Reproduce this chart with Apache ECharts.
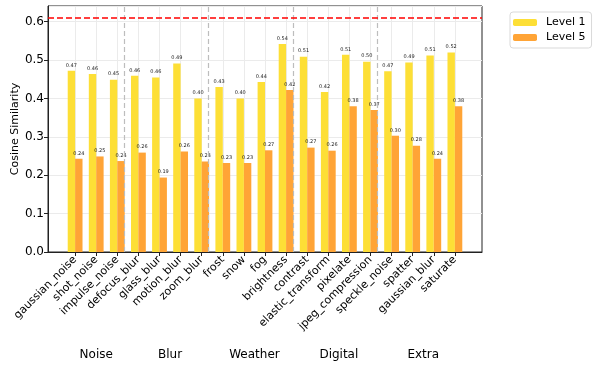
<!DOCTYPE html>
<html lang="en">
<head>
    <meta charset="UTF-8">
    <title>Cosine Similarity</title>
    <style>
        html, body { margin: 0; padding: 0; background: #fff; }
    </style>
</head>
<body>
<div id="main" style="width: 598px;height:367px;"></div>
<script src="https://cdn.jsdelivr.net/npm/echarts@6/dist/echarts.min.js"></script>
<script type="text/javascript">
    var categories = ['gaussian_noise', 'shot_noise', 'impulse_noise', 'defocus_blur', 'glass_blur',
        'motion_blur', 'zoom_blur', 'frost', 'snow', 'fog', 'brightness', 'contrast',
        'elastic_transform', 'pixelate', 'jpeg_compression', 'speckle_noise', 'spatter',
        'gaussian_blur', 'saturate'];
    var level1 = [0.472, 0.464, 0.449, 0.459, 0.455, 0.491, 0.400, 0.430, 0.400, 0.443,
        0.542, 0.509, 0.417, 0.514, 0.496, 0.471, 0.494, 0.512, 0.520];
    var level5 = [0.243, 0.249, 0.237, 0.259, 0.194, 0.262, 0.236, 0.232, 0.232, 0.265,
        0.422, 0.272, 0.264, 0.380, 0.370, 0.303, 0.277, 0.243, 0.380];
    var groups = ['Noise', 'Blur', 'Weather', 'Digital', 'Extra'];
    var groupCenters = [1, 4.5, 8.5, 12.5, 16.5];
    var groupSeparators = [2.5, 6.5, 10.5, 14.5];
    var refLine = 0.61;

    var font = 'DejaVu Sans';
    var idx = categories.map(function (c, i) { return i; });

    function pairs(vals) {
        return vals.map(function (v, i) { return [i, v]; });
    }

    var barLabel = {
        show: true,
        position: 'top',
        distance: 3,
        fontSize: 5,
        fontFamily: font,
        color: '#222',
        formatter: function (p) { return p.value[1].toFixed(2); }
    };

    var myChart = echarts.init(document.getElementById('main'));
    var option = {
        animation: false,
        textStyle: { fontFamily: font },
        grid: {
            left: 48, right: 116, top: 6, bottom: 115,
            outerBoundsMode: 'none',
            containLabel: false,
            show: true, borderColor: '#222', borderWidth: 1
        },
        legend: {
            left: 510, top: 12,
            orient: 'vertical',
            itemWidth: 24, itemHeight: 7, itemGap: 4,
            padding: [5, 6, 5, 3],
            borderColor: '#d9d9d9', borderWidth: 1, borderRadius: 3,
            backgroundColor: '#fff',
            textStyle: { fontSize: 11, fontFamily: font, color: '#000', padding: [0, 0, 0, 4] },
            data: ['Level 1', 'Level 5']
        },
        xAxis: [{
            type: 'value',
            min: -1.285, max: 19.285,
            axisLine: { show: true, onZero: false, lineStyle: { color: '#222' } },
            axisTick: { show: true, length: 4, customValues: idx, lineStyle: { color: '#222' } },
            splitLine: { show: true, lineStyle: { color: '#ebebeb', width: 1 } },
            axisLabel: {
                customValues: idx,
                rotate: 45,
                fontSize: 11,
                fontFamily: font,
                color: '#000',
                margin: 6,
                formatter: function (v) { return categories[Math.round(v)]; }
            }
        }, {
            type: 'value',
            min: -1.285, max: 19.285,
            position: 'bottom',
            offset: 97,
            axisLine: { show: false },
            axisTick: { show: false },
            splitLine: { show: false },
            axisLabel: {
                customValues: groupCenters,
                fontSize: 12,
                fontFamily: font,
                color: '#000',
                margin: 0,
                formatter: function (v) { return groups[groupCenters.indexOf(v)]; }
            }
        }],
        yAxis: {
            type: 'value',
            min: 0, max: 0.641, interval: 0.1,
            name: 'Cosine Similarity',
            nameLocation: 'middle',
            nameGap: 27,
            nameMoveOverlap: false,
            nameTextStyle: { fontSize: 11, fontFamily: font, color: '#000' },
            axisLine: { show: true, onZero: false, lineStyle: { color: '#222' } },
            axisTick: { show: true, length: 4, lineStyle: { color: '#222' } },
            splitLine: { show: true, lineStyle: { color: '#ebebeb', width: 1 } },
            axisLabel: {
                fontSize: 12, fontFamily: font, color: '#000', margin: 4,
                showMaxLabel: false,
                formatter: function (v) { return v.toFixed(1); }
            }
        },
        series: [{
            name: 'Level 1',
            type: 'bar',
            data: pairs(level1),
            barWidth: 7.4,
            barGap: '0%',
            itemStyle: { color: '#FDDF36' },
            label: barLabel,
            markLine: {
                silent: true,
                symbol: 'none',
                label: { show: false },
                lineStyle: { color: '#bdbdbd', type: [5, 3], width: 1.2 },
                data: groupSeparators.map(function (x) { return { xAxis: x }; })
            }
        }, {
            name: 'Level 5',
            type: 'bar',
            data: pairs(level5),
            barWidth: 7.4,
            barGap: '0%',
            itemStyle: { color: '#FFA436' },
            label: barLabel,
            markLine: {
                silent: true,
                symbol: 'none',
                label: { show: false },
                lineStyle: { color: '#ff0000', type: [6, 3], width: 1.5 },
                data: [{ yAxis: refLine }]
            }
        }]
    };
    myChart.setOption(option);
</script>
</body>
</html>
